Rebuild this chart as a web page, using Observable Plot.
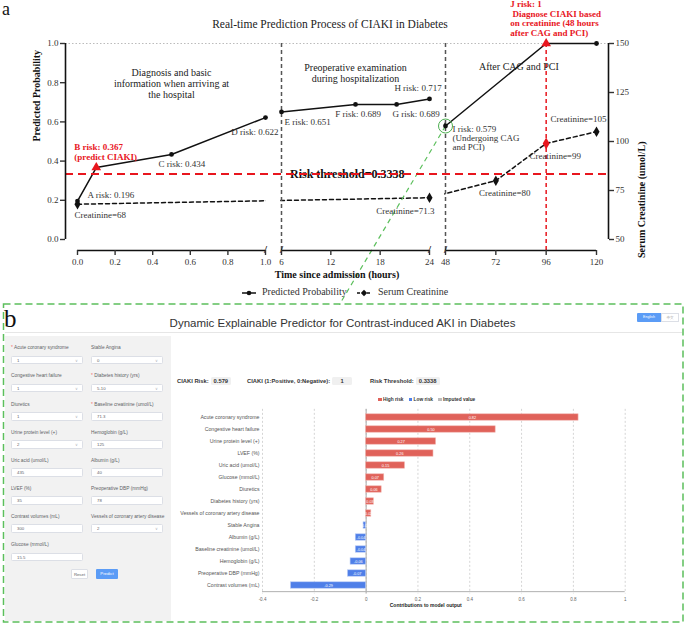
<!DOCTYPE html>
<html><head><meta charset="utf-8">
<script src="https://cdn.jsdelivr.net/npm/d3@7"></script>
<script src="https://cdn.jsdelivr.net/npm/@observablehq/plot@0.6"></script>
<style>
body{margin:0;background:#fff;}
#root{position:relative;width:685px;height:625px;overflow:hidden;background:#fff;}
.abs{position:absolute;}
.sans{font-family:"Liberation Sans",Arial,sans-serif;}
.serif{font-family:"Liberation Serif","Times New Roman",serif;}
.flabel{position:absolute;font-size:4.8px;color:#606266;line-height:6px;white-space:nowrap;font-family:"Liberation Sans",Arial,sans-serif;}
.finput{position:absolute;width:72px;height:8.6px;background:#fff;border:0.5px solid #dcdfe6;border-radius:1.5px;box-sizing:border-box;font-size:4.3px;color:#606266;padding-left:5px;line-height:7.6px;font-family:"Liberation Sans",Arial,sans-serif;}
.chev{position:absolute;right:4px;top:0;font-size:4px;color:#b0b3b8;}
.rlab{position:absolute;font-size:5.8px;font-weight:bold;color:#333;font-family:"Liberation Sans",Arial,sans-serif;white-space:nowrap;line-height:8px;}
.rbox{display:inline-block;background:#f0f0f0;border-radius:1.5px;padding:0 3px;margin-left:2px;min-width:14px;text-align:center;}
</style></head>
<body><div id="root"></div>
<script>
// ---------- Panel a data ----------
const riskTimes   = [0, 0.1, 0.5, 1, 6, 15, 20, 24, 48, 96, 120];
const riskLetters = ["A","B","C","D","E","F","G","H","I","J",""];
const riskValues  = [0.196, 0.367, 0.434, 0.622, 0.651, 0.689, 0.689, 0.717, 0.579, 1, 1];
const creatTimes  = [0, 24, 72, 96, 120];
const creatValues = [68, 71.3, 80, 99, 105];
const threshold   = 0.3338;
const timeTicks   = [0, 0.2, 0.4, 0.6, 0.8, 1, 6, 12, 18, 24, 48, 72, 96, 120];
const probTicks   = [0, 0.2, 0.4, 0.6, 0.8, 1];
const creatTicks  = [50, 75, 100, 125, 150];
const timeSegments = [[0, 1], [6, 24], [48, 120]];
const timeGaps = [[1, 6], [24, 48]];

// ---------- Panel b data ----------
const features = ["Acute coronary syndrome","Congestive heart failure","Urine protein level (+)","LVEF (%)","Uric acid (umol/L)","Glucose (mmol/L)","Diuretics","Diabetes history (yrs)","Vessels of coronary artery disease","Stable Angina","Albumin (g/L)","Baseline creatinine (umol/L)","Hemoglobin (g/L)","Preoperative DBP (mmHg)","Contrast volumes (mL)"];
const contributions = [0.82, 0.50, 0.27, 0.26, 0.15, 0.07, 0.06, 0.03, 0.02, -0.01, -0.04, -0.04, -0.06, -0.07, -0.29];
const contribTicks = [-0.4, -0.2, 0, 0.2, 0.4, 0.6, 0.8, 1];
const leftLabels  = ["* Acute coronary syndrome","Congestive heart failure","Diuretics","Urine protein level (+)","Uric acid (umol/L)","LVEF (%)","Contrast volumes (mL)","Glucose (mmol/L)"];
const leftValues  = ["1","1","1","2","435","35","300","15.5"];
const leftSelect  = [true,true,true,true,false,false,false,false];
const rightLabels = ["Stable Angina","* Diabetes history (yrs)","* Baseline creatinine (umol/L)","Hemoglobin (g/L)","Albumin (g/L)","Preoperative DBP (mmHg)","Vessels of coronary artery disease"];
const rightValues = ["0","5-10","71.3","125","40","78","2"];
const rightSelect = [true,true,false,false,false,false,true];
const resultLabels = ["CIAKI Risk:","CIAKI (1:Positive, 0:Negative):","Risk Threshold:"];
const resultValues = ["0.579","1","0.3338"];

const root = document.getElementById("root");
const serif = "Liberation Serif, Times New Roman, serif";
const sans = "Liberation Sans, Arial, sans-serif";
const red = "#e8161e";
const toP = c => (c - 50) / 100;

const probData = riskTimes.map((t, i) => ({t, p: riskValues[i], label: riskLetters[i]}));
const creatData = creatTimes.map((t, i) => ({t, c: creatValues[i], p: toP(creatValues[i])}));
const pick = L => probData.filter(d => d.label === L);
const pickC = c => creatData.filter(d => d.c === c);
const note = {fill: "#333", fontSize: 9};

const chartA = Plot.plot({
  width: 685, height: 305,
  marginTop: 43, marginBottom: 55, marginLeft: 65, marginRight: 77,
  style: {fontFamily: serif, fontSize: "9px", color: "#222", background: "transparent", overflow: "visible"},
  x: {type: "linear", domain: [0, 1, 6, 24, 48, 120], range: [77, 265, 281, 429, 445, 596]},
  y: {domain: [0, 1], range: [239, 43]},
  marks: [
    Plot.ruleY([1], {stroke: "#bbb", strokeDasharray: "1.5,2"}),
    // connecting lines (drawn through the axis breaks, then masked there)
    Plot.line(creatData, {x: "t", y: "p", stroke: "#111", strokeWidth: 1.5, strokeDasharray: "4,3"}),
    Plot.line(probData, {x: "t", y: "p", stroke: "#111", strokeWidth: 1.5}),
    Plot.rect(timeGaps, {x1: d => d[0], x2: d => d[1], y1: -0.02, y2: 0.98, fill: "#fff", insetLeft: 0.8, insetRight: 0.8}),
    Plot.ruleX([6, 48], {stroke: "#555", strokeWidth: 1.5, strokeDasharray: "4,3"}),
    Plot.ruleX([96], {stroke: red, strokeWidth: 1.5, strokeDasharray: "4,3"}),
    Plot.link(pick("I"), {x1: "t", y1: "p", x2: 13.05, y2: -0.332, stroke: "#5cbf5c", strokeWidth: 1.2, strokeDasharray: "5,4"}),
    Plot.dot(creatData, {filter: d => d.t !== 96, x: "t", y: "p", symbol: "diamond", r: 3.2, fill: "#111"}),
    Plot.dot(creatData, {filter: d => d.t === 96, x: "t", y: "p", symbol: "diamond", r: 3.6, fill: red}),
    Plot.dot(probData, {filter: d => d.label !== "B" && d.label !== "J", x: "t", y: "p", r: 2.4, fill: "#111"}),
    Plot.dot(probData, {filter: d => d.label === "B" || d.label === "J", x: "t", y: "p", symbol: "triangle", r: 3.6, fill: red}),
    Plot.dot(pick("I"), {x: "t", y: "p", r: 7, stroke: "#4caf50", fill: "none", strokeWidth: 1}),
    // risk labels
    Plot.text(pick("A"), {x: "t", y: "p", text: d => `A risk: ${d.p}`, dx: 10, dy: -6, textAnchor: "start", ...note}),
    Plot.text(pick("B"), {x: "t", y: "p", text: d => `B risk: ${d.p}\n(predict CIAKI)`, dx: -22, dy: -16, textAnchor: "start", lineHeight: 1.1, fill: red, fontWeight: "bold", fontSize: 9}),
    Plot.text(pick("C"), {x: "t", y: "p", text: d => `C risk: ${d.p}`, dx: -13, dy: 9.5, textAnchor: "start", ...note}),
    Plot.text(pick("D"), {x: "t", y: "p", text: d => `D risk: ${d.p}`, dx: 13, dy: 15, textAnchor: "end", ...note}),
    Plot.text(pick("E"), {x: "t", y: "p", text: d => `E risk: ${d.p}`, dx: 3, dy: 10, textAnchor: "start", ...note}),
    Plot.text(pick("F"), {x: "t", y: "p", text: d => `F risk: ${d.p}`, dx: 2.5, dy: 10, ...note}),
    Plot.text(pick("G"), {x: "t", y: "p", text: d => `G risk: ${d.p}`, dx: 19.5, dy: 10, ...note}),
    Plot.text(pick("H"), {x: "t", y: "p", text: d => `H risk: ${d.p}`, dx: -11.5, dy: -11, ...note}),
    Plot.text(pick("I"), {x: "t", y: "p", text: d => `I risk: ${d.p}\n(Undergoing CAG\nand PCI)`, dx: 7, dy: 12, textAnchor: "start", lineHeight: 1.05, ...note}),
    Plot.text(pick("J"), {x: "t", y: "p", text: d => `J risk: ${d.p}\n Diagnose CIAKI based\non creatinine (48 hours\nafter CAG and PCI)`, dx: -36, dy: -25, textAnchor: "start", lineHeight: 1.04, fill: red, fontWeight: "bold", fontSize: 9}),
    // creatinine labels
    Plot.text(pickC(68), {x: "t", y: "p", text: d => `Creatinine=${d.c}`, dx: -3, dy: 10.5, textAnchor: "start", ...note}),
    Plot.text(pickC(71.3), {x: "t", y: "p", text: d => `Creatinine=${d.c}`, dx: 5, dy: 13, textAnchor: "end", ...note}),
    Plot.text(pickC(80), {x: "t", y: "p", text: d => `Creatinine=${d.c}`, dx: 9, dy: 12.5, ...note}),
    Plot.text(pickC(99), {x: "t", y: "p", text: d => `Creatinine=${d.c}`, dx: 9, dy: 13, ...note}),
    Plot.text(pickC(105), {x: "t", y: "p", text: d => `Creatinine=${d.c}`, dx: 10, dy: -13, textAnchor: "end", ...note}),
    // region titles
    Plot.text(["Diagnosis and basic\ninformation when arriving at\nthe hospital"], {x: 0.5, frameAnchor: "top", dy: 25, lineHeight: 1.1, fontSize: 10, fill: "#222"}),
    Plot.text(["Preoperative examination\nduring hospitalization"], {x: 15, frameAnchor: "top", dy: 19.5, lineHeight: 1.1, fontSize: 10, fill: "#222"}),
    Plot.text(["After CAG and PCI"], {x: 83, frameAnchor: "top", dy: 19, fontSize: 10, fill: "#222"}),
    // threshold
    Plot.text([threshold], {x: 14, y: d => d, text: d => `Risk threshold=${d}`, fontWeight: "bold", fontSize: 12, fill: "#111"}),
    Plot.ruleY([threshold], {stroke: red, strokeWidth: 2, strokeDasharray: "8,5"}),
    // axes
    Plot.ruleX([0], {y1: 0, y2: 1, dx: -12, stroke: "#111", strokeWidth: 1.6}),
    Plot.ruleX([120], {y1: 0, y2: 1, dx: 12, stroke: "#111", strokeWidth: 1.6}),
    Plot.ruleY(timeSegments, {x1: d => d[0], x2: d => d[1], y: 0, dy: 11, stroke: "#111", strokeWidth: 1.6}),
    Plot.text([1, 6, 24, 48], {x: d => d, y: 0, dy: 10, text: () => "/", fontSize: 11, fontWeight: "bold", fill: "#111"}),
    Plot.axisY({anchor: "left", ticks: probTicks, tickFormat: d => d.toFixed(1), tickSize: 5, tickPadding: 2, label: null, strokeWidth: 1.4, color: "#333"}),
    Plot.axisY({anchor: "right", ticks: creatTicks.map(toP), tickFormat: p => String(Math.round(50 + 100 * p)), tickSize: 5, tickPadding: 2, label: null, strokeWidth: 1.4, color: "#333"}),
    Plot.axisX({anchor: "bottom", ticks: timeTicks, tickFormat: d => d <= 1 ? d.toFixed(1) : String(d), tickSize: 5, tickPadding: 3, label: null, strokeWidth: 1.4, color: "#333"}),
    Plot.text(["Predicted Probability"], {frameAnchor: "left", y: 0.5, rotate: -90, dx: -29, fontWeight: "bold", fontSize: 10, fill: "#111"}),
    Plot.text(["Serum Creatinine (umol/L)"], {frameAnchor: "right", y: 0.5, rotate: -90, dx: 33, fontWeight: "bold", fontSize: 10, fill: "#111"}),
    Plot.text(["Time since admission (hours)"], {frameAnchor: "bottom", dy: 27, fontWeight: "bold", fontSize: 10, fill: "#111"}),
    Plot.text(["Real-time Prediction Process of CIAKI in Diabetes"], {frameAnchor: "top", dy: -24, dx: -7, fontSize: 11.5, fill: "#222"})
  ]
});
chartA.style.position = "absolute";
chartA.style.left = "0px";
chartA.style.top = "0px";
root.appendChild(chartA);

function add(html, style, cls) {
  const d = document.createElement("div");
  d.className = "abs " + (cls || "");
  d.setAttribute("style", style);
  d.innerHTML = html;
  root.appendChild(d);
  return d;
}

// panel letter a
add("a", "left:2px;top:0px;font-size:18px;line-height:18px;color:#111;", "serif");

// legend of panel a
add(`<svg width="14" height="8" style="vertical-align:middle"><line x1="0" y1="4" x2="14" y2="4" stroke="#111" stroke-width="1.5"/><circle cx="7" cy="4" r="2.3" fill="#111"/></svg><span style="margin-left:6px">Predicted Probability</span>`,
  "left:242px;top:286px;font-size:10px;color:#333;white-space:nowrap;line-height:12px;", "serif");
add(`<svg width="14" height="8" style="vertical-align:middle"><line x1="0" y1="4" x2="14" y2="4" stroke="#111" stroke-width="1.5" stroke-dasharray="3,2"/><path d="M7,0.8 L10.2,4 L7,7.2 L3.8,4Z" fill="#111"/></svg><span style="margin-left:7px">Serum Creatinine</span>`,
  "left:357px;top:286px;font-size:10px;color:#333;white-space:nowrap;line-height:12px;", "serif");

// ---------- Panel b ----------
add("", "left:5px;top:332px;width:677px;height:0.8px;background:#e6e6e6;");
add("b", "left:4px;top:308px;font-size:25px;line-height:22px;color:#111;", "serif");
add("Dynamic Explainable Predictor for Contrast-induced AKI in Diabetes", "left:0px;width:685px;top:317px;text-align:center;font-size:11.5px;color:#333;white-space:nowrap;", "sans");
add("English", "left:637px;top:313px;width:24px;height:9px;background:#5b9cf6;color:#fff;font-size:3.6px;line-height:9px;text-align:center;border-radius:1px 0 0 1px;", "sans");
add("中文", "left:661px;top:313px;width:18px;height:9px;box-sizing:border-box;border:0.5px solid #dcdfe6;color:#999;font-size:3.6px;line-height:8px;text-align:center;font-family:'Noto Sans CJK SC';");

// form panel
add("", "left:5px;top:336px;width:166px;height:285px;background:#f2f2f2;");
function star(label) {
  return label.startsWith("* ") ? `<span style="color:#f56c6c">*</span> ${label.slice(2)}` : label;
}
function field(x, i, label, value, isSelect) {
  const y = 348.3 + 28.1 * i;
  add(star(label), `left:${x}px;top:${y - 3}px;`, "flabel");
  add(value + (isSelect ? `<span class="chev">∨</span>` : ""), `left:${x}px;top:${y + 7.5}px;`, "finput");
}
leftLabels.forEach((l, i) => field(11, i, l, leftValues[i], leftSelect[i]));
rightLabels.forEach((l, i) => field(91, i, l, rightValues[i], rightSelect[i]));
add("Reset", "left:71px;top:569px;width:17px;height:9.7px;background:#fff;border:0.5px solid #dcdfe6;box-sizing:border-box;border-radius:1px;font-size:4.3px;color:#606266;text-align:center;line-height:9px;", "sans");
add("Predict", "left:95.7px;top:569px;width:22.6px;height:9.7px;background:#5b9cf6;border-radius:1px;font-size:4.3px;color:#fff;text-align:center;line-height:9.7px;", "sans");

// result row
const resX = [177, 247, 370];
resultLabels.forEach((l, i) => add(`${l}<span class="rbox">${resultValues[i]}</span>`, `left:${resX[i]}px;top:377px;`, "rlab"));

// legend of bar chart
const redB = "#e0625a", blueB = "#4f7fe8";
add(`<span style="display:inline-block;width:3.5px;height:3.5px;background:${redB};margin-right:1.5px"></span>High risk` +
    `<span style="display:inline-block;width:3.5px;height:3.5px;background:${blueB};margin:0 1.5px 0 5px"></span>Low risk` +
    `<span style="display:inline-block;width:3.5px;height:3.5px;background:#bbb;margin:0 1.5px 0 5px"></span>Imputed value`,
    "left:378px;top:397px;font-size:4.8px;color:#333;white-space:nowrap;line-height:6px;font-weight:bold;", "sans");

// bar chart
const barData = features.map((f, i) => ({f, v: contributions[i]}));
const chartB = Plot.plot({
  width: 505, height: 215,
  marginLeft: 90, marginRight: 52.3, marginTop: 3.85, marginBottom: 26.55,
  style: {fontFamily: sans, fontSize: "5px", background: "transparent", overflow: "visible"},
  x: {domain: [-0.4, 1]},
  y: {type: "band", domain: features, padding: 0, range: [3.85, 188.45]},
  marks: [
    Plot.gridX({ticks: contribTicks, stroke: "#d5d5d5", strokeOpacity: 1, strokeDasharray: "2,2"}),
    Plot.ruleX([0], {stroke: "#aaa"}),
    Plot.barX(barData, {x: "v", y: "f", fill: d => d.v > 0 ? redB : blueB, stroke: d => d.v > 0 ? "#f2b6b0" : "#b8cbf5", strokeWidth: 0.6, insetTop: 2.8, insetBottom: 2.8}),
    Plot.text(barData, {x: d => d.v / 2, y: "f", text: d => d.v.toFixed(2), fill: "#fff", fontSize: 3.8}),
    Plot.ruleY([features[features.length - 1]], {dy: 6.15, stroke: "#b0b0b0", strokeWidth: 1}),
    Plot.axisY({tickSize: 0, tickPadding: 3, label: null, fontSize: 5.2, color: "#555"}),
    Plot.axisX({ticks: contribTicks, tickSize: 0, tickPadding: 4, tickFormat: d => String(d), label: null, fontSize: 4.5, color: "#666"}),
    Plot.text(["Contributions to model output"], {frameAnchor: "bottom", x: 0.23, dy: 13, fontWeight: "bold", fontSize: 5, fill: "#222"})
  ]
});
chartB.style.position = "absolute";
chartB.style.left = "172px";
chartB.style.top = "405px";
root.appendChild(chartB);

// dashed green frame of panel b
const NS = "http://www.w3.org/2000/svg";
const frame = document.createElementNS(NS, "svg");
frame.setAttribute("width", 685); frame.setAttribute("height", 625);
frame.setAttribute("style", "position:absolute;left:0;top:0;pointer-events:none");
frame.innerHTML = `<rect x="3.5" y="304" width="679.5" height="318" fill="none" stroke="#5cbf5c" stroke-width="1.5" stroke-dasharray="7,4"/>`;
root.appendChild(frame);
</script>
</body></html>
